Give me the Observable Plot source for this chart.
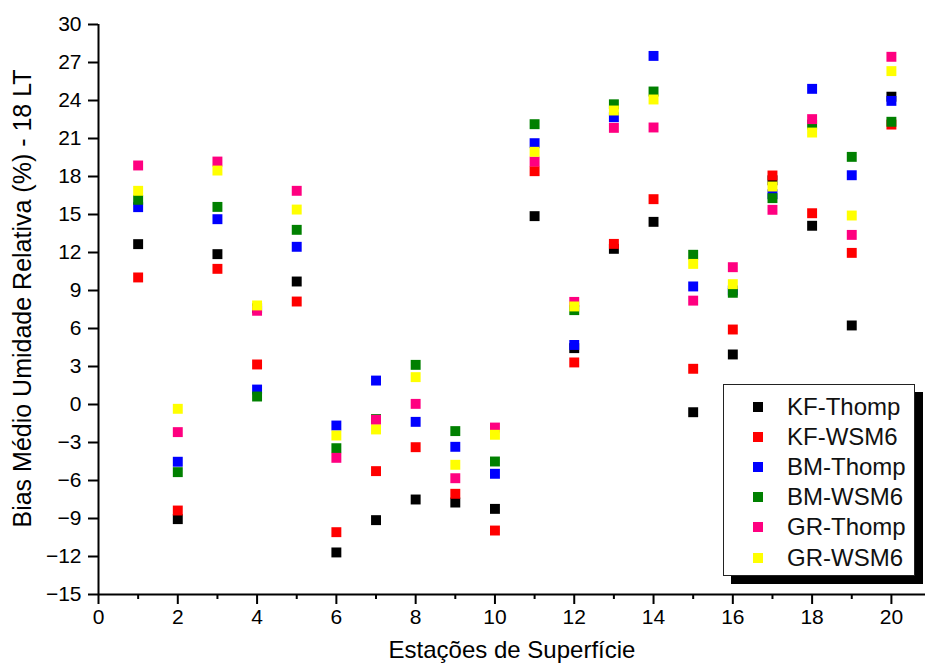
<!DOCTYPE html>
<html><head><meta charset="utf-8">
<script src="https://cdn.jsdelivr.net/npm/d3@7"></script>
<script src="https://cdn.jsdelivr.net/npm/@observablehq/plot@0.6"></script>
<style>
body{margin:0;background:#fff;}
#wrap{position:relative;width:928px;height:671px;font-family:"Liberation Sans",Arial,sans-serif;}
#legend{position:absolute;left:723px;top:384px;width:190px;height:190px;border:1px solid #222;background:#fff;box-shadow:8px 8px 0 #000;}
.row{position:absolute;left:0;height:30px;display:flex;align-items:center;}
.sw{width:10px;height:10px;margin-left:29px;margin-right:24px;}
.lab{font-size:24px;color:#111;white-space:nowrap;}
</style></head><body><div id="wrap"></div>
<script>
const stations = [1,2,3,4,5,6,7,8,9,10,11,12,13,14,15,16,17,18,19,20];
const seriesNames = ["KF-Thomp","KF-WSM6","BM-Thomp","BM-WSM6","GR-Thomp","GR-WSM6"];
const seriesColors = ["#000000","#ff0000","#0000ff","#008000","#ff0080","#ffff00"];
const kfThomp = [12.66,-9.05,11.87,7.6,9.71,-11.68,-9.13,-7.5,-7.74,-8.24,14.87,4.45,12.29,14.42,-0.61,3.95,17.7,14.11,6.24,24.3];
const kfWsm6  = [10.03,-8.37,10.71,3.16,8.13,-10.08,-5.26,-3.37,-7.05,-9.95,18.42,3.32,12.68,16.21,2.82,5.92,18.08,15.1,11.97,22.1];
const bmThomp = [15.58,-4.52,14.63,1.18,12.45,-1.66,1.89,-1.37,-3.34,-5.47,20.63,4.7,22.68,27.52,9.32,9.0,16.6,24.92,18.1,23.97];
const bmWsm6  = [16.16,-5.34,15.6,0.63,13.79,-3.45,-1.15,3.13,-2.1,-4.5,22.13,7.45,23.7,24.71,11.82,8.82,16.29,22.1,19.55,22.32];
const grThomp = [18.87,-2.18,19.18,7.4,16.87,-4.21,-1.21,0.05,-5.82,-1.82,19.18,8.1,21.84,21.87,8.2,10.84,15.37,22.53,13.39,27.45];
const grWsm6  = [16.87,-0.34,18.47,7.82,15.39,-2.45,-1.97,2.16,-4.76,-2.39,19.95,7.74,23.21,24.08,11.1,9.5,17.21,21.47,14.92,26.32];
const yTicks = [-15,-12,-9,-6,-3,0,3,6,9,12,15,18,21,24,27,30];
const xMajor = [0,2,4,6,8,10,12,14,16,18,20];
const xMinor = [1,3,5,7,9,11,13,15,17,19];
const xTitle = "Estações de Superfície";
const yTitle = "Bias Médio Umidade Relativa (%) - 18 LT";

const allSeries = [kfThomp,kfWsm6,bmThomp,bmWsm6,grThomp,grWsm6];
const data = [];
seriesNames.forEach((s,i)=>stations.forEach((st,j)=>data.push({series:s, station:st, value:allSeries[i][j]})));

const chart = Plot.plot({
  width: 928, height: 671,
  marginLeft: 98, marginRight: 3, marginTop: 24, marginBottom: 77,
  style: {fontFamily: "'Liberation Sans', Arial, sans-serif", color: "black", background: "white"},
  x: {domain: [0, 20.86]},
  y: {domain: [-15, 30]},
  color: {domain: seriesNames, range: seriesColors},
  marks: [
    Plot.axisY(yTicks, {tickSize: 10, tickPadding: 7, fontSize: 21, strokeWidth: 2, label: null}),
    Plot.axisX(xMajor, {tickSize: 10, tickPadding: 5, fontSize: 21, strokeWidth: 2, label: null}),
    Plot.axisX(xMinor, {tickSize: 5, strokeWidth: 2, tickFormat: () => "", label: null}),
    Plot.ruleX([0], {strokeWidth: 2}),
    Plot.ruleY([-15], {strokeWidth: 2}),
    Plot.dot(data, {x: "station", y: "value", fill: "series", symbol: "square", r: 5.6}),
    Plot.text([xTitle], {frameAnchor: "bottom", dy: 63, fontSize: 24}),
    Plot.text([yTitle], {frameAnchor: "left", textAnchor: "middle", dx: -76, dy: -11, rotate: -90, fontSize: 25})
  ]
});
const wrap = document.getElementById("wrap");
wrap.appendChild(chart);
const legend = document.createElement("div");
legend.id = "legend";
seriesNames.forEach((s,i)=>{
  const row = document.createElement("div");
  row.className = "row";
  row.style.top = (6.5 + i*30.2) + "px";
  const sw = document.createElement("div");
  sw.className = "sw"; sw.style.background = seriesColors[i];
  const lab = document.createElement("span");
  lab.className = "lab"; lab.textContent = s;
  row.appendChild(sw); row.appendChild(lab);
  legend.appendChild(row);
});
wrap.appendChild(legend);
</script></body></html>
